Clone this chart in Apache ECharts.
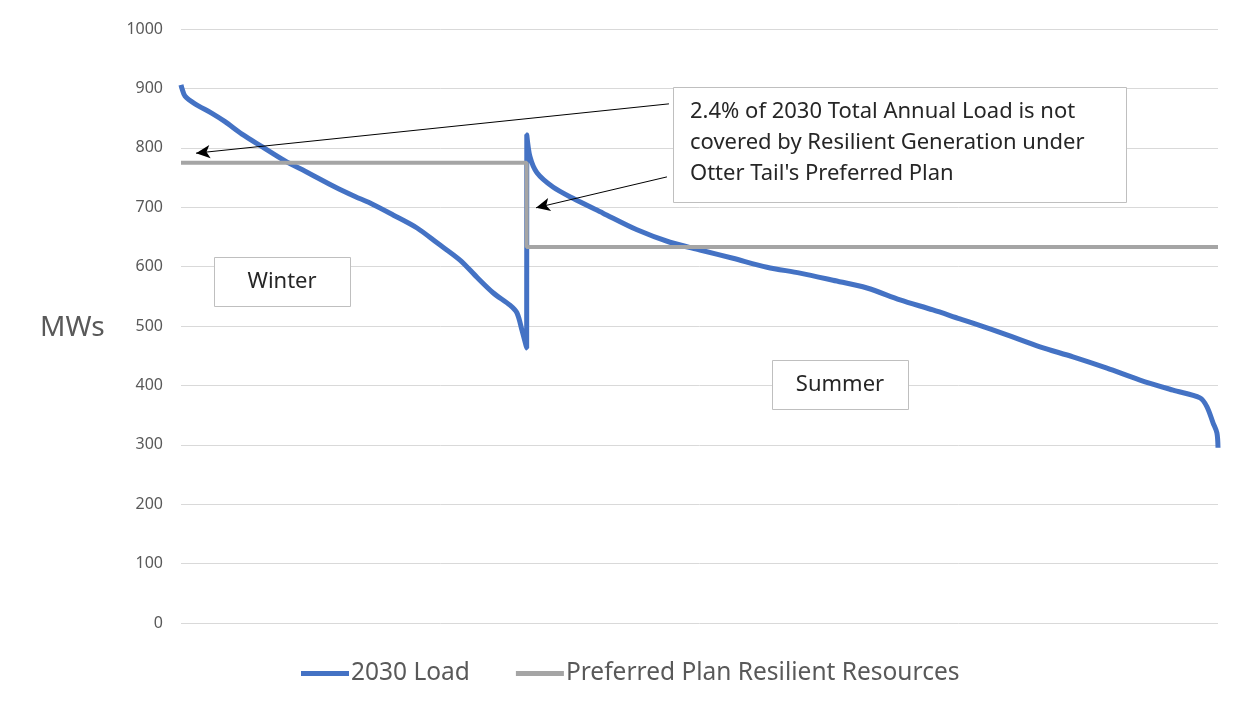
<!DOCTYPE html>
<html>
<head>
<meta charset="utf-8">
<script src="https://cdn.jsdelivr.net/npm/echarts@6/dist/echarts.min.js"></script>
<style>
html,body{margin:0;padding:0;background:#fff;}
#chart{width:1241px;height:708px;}
</style>
</head>
<body>
<div id="chart"></div>
<script>
// Load duration data: [hour of year, MW]
const winterHours = [0, 8, 34, 118, 262, 372, 515, 684, 879, 1073, 1301, 1470, 1597, 1791, 1994, 2163, 2357, 2500, 2636, 2779, 2838, 2880, 2920];
const winterLoad  = [906, 900, 887, 874, 858, 844, 823, 802, 778, 758, 734, 718, 707, 687, 665, 640, 611, 582, 556, 535, 522, 493, 463];
const summerHours = [2921, 2948, 3007, 3142, 3311, 3565, 3852, 4131, 4384, 4663, 4950, 5229, 5507, 5795, 6074, 6352, 6580, 6690, 6977, 7256, 7535, 7822, 8101, 8380, 8608, 8667, 8718, 8751, 8760];
const summerLoad  = [822, 785, 758, 734, 715, 690, 662, 641, 628, 614, 599, 589, 577, 564, 544, 527, 512, 505, 485, 465, 448, 429, 409, 392, 379, 364, 337, 320, 295];
const planHours = [0, 2920, 2920, 8760];
const planMW    = [775, 775, 633, 633];
const yTicks = [0, 100, 200, 300, 400, 500, 600, 700, 800, 900, 1000];
const seriesNames = ['2030 Load', 'Preferred Plan Resilient Resources'];
const calloutLines = ['2.4% of 2030 Total Annual Load is not', 'covered by Resilient Generation under', "Otter Tail's Preferred Plan"];
const arrow1 = [[4122, 874], [127, 791]];
const arrow2 = [[4105, 751], [2999, 699]];

const loadData = winterHours.map((h, i) => [h, winterLoad[i]])
  .concat(summerHours.map((h, i) => [h, summerLoad[i]]));
const planData = planHours.map((h, i) => [h, planMW[i]]);

const chart = echarts.init(document.getElementById('chart'));
const FONT = 'Noto Sans';
chart.setOption({
  animation: false,
  backgroundColor: '#fff',
  grid: { left: 181, right: 23, top: 29, bottom: 85 },
  xAxis: {
    type: 'value', min: 0, max: 8760,
    axisLine: { show: false }, axisTick: { show: false },
    axisLabel: { show: false }, splitLine: { show: false }
  },
  yAxis: {
    type: 'value', min: yTicks[0], max: yTicks[yTicks.length - 1], interval: 100,
    axisLine: { show: false }, axisTick: { show: false },
    axisLabel: { color: '#595959', fontSize: 16, fontFamily: FONT, margin: 18, formatter: v => String(v) },
    splitLine: { lineStyle: { color: '#d9d9d9', width: 1 } }
  },
  legend: {
    bottom: 17, left: 296,
    itemWidth: 48, itemHeight: 5, itemGap: 46,
    icon: 'rect',
    textStyle: { color: '#595959', fontSize: 24.5, fontFamily: FONT, padding: [0, 0, 0, -3] },
    data: seriesNames
  },
  series: [
    {
      name: seriesNames[0], type: 'line', data: loadData,
      showSymbol: false, symbol: 'none', smooth: 0.3,
      color: '#4472C4',
      lineStyle: { color: '#4472C4', width: 5 }
    },
    {
      name: seriesNames[1], type: 'line', data: planData,
      showSymbol: false, symbol: 'none',
      color: '#A5A5A5',
      lineStyle: { color: '#A5A5A5', width: 4 },
      markLine: {
        silent: true, symbol: ['none', 'arrow'], symbolSize: [10, 14],
        label: { show: false },
        lineStyle: { color: '#000', width: 1, type: 'solid' },
        data: [
          [{ coord: arrow1[0] }, { coord: arrow1[1] }],
          [{ coord: arrow2[0] }, { coord: arrow2[1] }]
        ]
      }
    }
  ],
  graphic: [
    { type: 'text', x: 40, y: 328, style: { text: 'MWs', fill: '#595959', font: '28px "' + FONT + '"', verticalAlign: 'middle' } },
    { type: 'rect', shape: { x: 214.5, y: 257.5, width: 136, height: 49 }, style: { fill: '#fff', stroke: '#bfbfbf', lineWidth: 1 }, z: 10 },
    { type: 'text', x: 282, y: 282, style: { text: 'Winter', fill: '#262626', font: '22px "' + FONT + '"', align: 'center', verticalAlign: 'middle' }, z: 11 },
    { type: 'rect', shape: { x: 772.5, y: 360.5, width: 136, height: 49 }, style: { fill: '#fff', stroke: '#bfbfbf', lineWidth: 1 }, z: 10 },
    { type: 'text', x: 840, y: 385, style: { text: 'Summer', fill: '#262626', font: '22px "' + FONT + '"', align: 'center', verticalAlign: 'middle' }, z: 11 },
    { type: 'rect', shape: { x: 673.5, y: 87.5, width: 453, height: 115 }, style: { fill: '#fff', stroke: '#bfbfbf', lineWidth: 1 }, z: 10 },
    { type: 'text', x: 690, y: 112, style: { text: calloutLines[0], fill: '#262626', font: '22px "' + FONT + '"', verticalAlign: 'middle' }, z: 11 },
    { type: 'text', x: 690, y: 143, style: { text: calloutLines[1], fill: '#262626', font: '22px "' + FONT + '"', verticalAlign: 'middle' }, z: 11 },
    { type: 'text', x: 690, y: 174, style: { text: calloutLines[2], fill: '#262626', font: '22px "' + FONT + '"', verticalAlign: 'middle' }, z: 11 }
  ]
});
</script>
</body>
</html>
